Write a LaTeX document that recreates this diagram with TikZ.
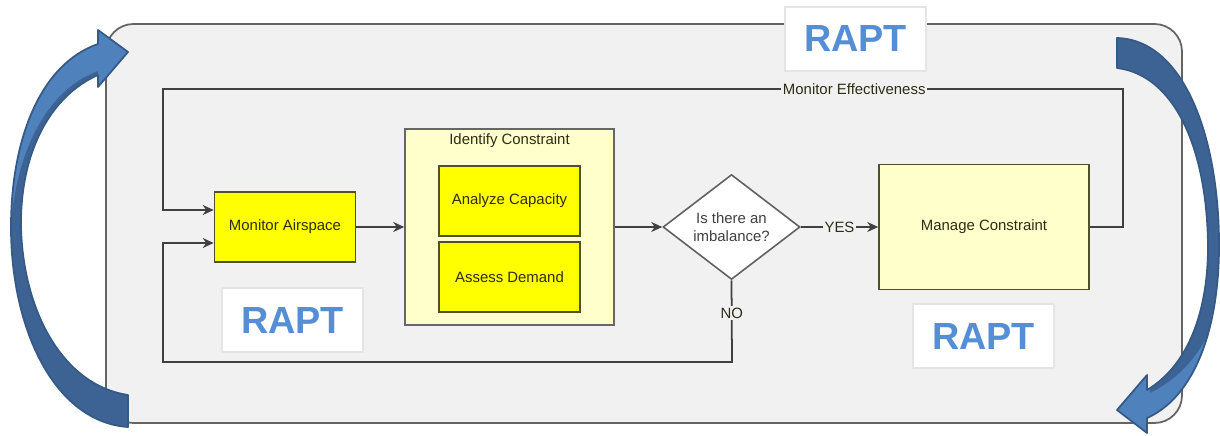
\documentclass[tikz,border=0pt]{standalone}
\usepackage{fontspec}
\setmainfont{Liberation Sans}
\usetikzlibrary{shapes.geometric,arrows.meta}

\definecolor{panelgray}{RGB}{241,241,241}
\definecolor{panelrim}{RGB}{100,100,100}
\definecolor{flowline}{RGB}{64,64,64}
\definecolor{stepyellow}{RGB}{255,255,0}
\definecolor{paleyellow}{RGB}{255,255,204}
\definecolor{olivedark}{RGB}{80,80,45}
\definecolor{steptext}{RGB}{45,45,20}
\definecolor{raptblue}{RGB}{85,142,213}
\definecolor{cyclefill}{RGB}{79,129,189}
\definecolor{cycleshade}{RGB}{61,99,148}
\definecolor{cycleedge}{RGB}{54,90,134}

\tikzset{
  stepbox/.style={draw=olivedark, fill=stepyellow, line width=0.9pt, text=steptext,
    font=\fontsize{8.5}{10}\selectfont, minimum width=2.82cm, minimum height=1.4cm},
  groupbox/.style={draw=gray!80!black, fill=paleyellow, line width=0.9pt},
  raptbox/.style={draw=gray!20, fill=white, line width=0.8pt, text=raptblue,
    font=\bfseries\fontsize{21.5}{26}\selectfont, minimum width=2.82cm, minimum height=1.28cm},
  flow/.style={draw=flowline, line width=1pt},
  tag/.style={fill=panelgray, inner sep=1pt, text=steptext, font=\fontsize{8.5}{10}\selectfont},
  cycleedge/.style={draw=cycleedge, line width=1pt, line join=round},
}

% outlines of the two curved arrows
\def\leftcycle{(128,395) .. controls (62,385) and (23,310) .. (21,227)
    .. controls (20,150) and (52,95) .. (98,75)
    -- (98,87) -- (128,52) -- (98,30) -- (98,44)
    .. controls (40,64) and (11,140) .. (11,227)
    .. controls (11,330) and (55,422) .. (128,427) -- cycle}
\def\rightcycle{(1117,38) .. controls (1185,40) and (1220,140) .. (1219,250)
    .. controls (1218,335) and (1192,398) .. (1147,418)
    -- (1147,433) -- (1117,410) -- (1147,375) -- (1147,390)
    .. controls (1184,368) and (1207,320) .. (1208,250)
    .. controls (1208,150) and (1175,75) .. (1117,68) -- cycle}

\begin{document}
\begin{tikzpicture}[x=0.2mm, y=-0.2mm, >={Stealth[length=2.2mm, width=2mm]}]
  \useasboundingbox (0,0) rectangle (1220,435);

  % Background panel
  \draw[draw=panelrim, fill=panelgray, line width=1pt, rounded corners=5.5mm]
    (106,24) rectangle (1182,423);

  % Process steps
  \node[stepbox] (mon) at (285,227) {Monitor Airspace};
  \node[groupbox, minimum width=4.18cm, minimum height=3.92cm] (ident) at (509.5,227) {};
  \node[tag, fill=none] (identtitle) at (509.5,141) {Identify Constraint};
  \node[stepbox] (cap) at (509.5,201) {Analyze Capacity};
  \node[stepbox] (dem) at (509.5,277) {Assess Demand};
  \node[diamond, draw=gray!75!black, fill=white, line width=0.9pt, inner sep=0pt,
        minimum width=2.74cm, minimum height=2.06cm, align=center,
        text=black!75, font=\fontsize{8.5}{10}\selectfont] (imb) at (731.5,227) {Is there an\\imbalance?};
  \node[groupbox, draw=olivedark, text=steptext, font=\fontsize{8.5}{10}\selectfont,
        minimum width=4.2cm, minimum height=2.5cm] (mgr) at (984,227) {Manage Constraint};

  % Loop corners
  \coordinate (topL) at (163,89);
  \coordinate (topR) at (1123,89);
  \coordinate (botL) at (163,362);
  \coordinate (botR) at (732,362);

  % Forward flow
  \draw[flow, ->] (mon.east) -- (ident.west |- mon.east);
  \draw[flow, ->] (ident.east |- imb.west) -- (imb.west);
  \draw[flow, ->] (imb.east) -- node[tag] {YES} (mgr.west);

  % Feedback loops
  \draw[flow, ->] (mgr.east) -| (topR) -- node[tag, pos=0.28] {Monitor Effectiveness} (topL)
    |- ([yshift=3.4mm]mon.west);
  \draw[flow, ->] (imb.south) -- node[tag, pos=0.4] {NO} (botR) -- (botL)
    |- ([yshift=-3.2mm]mon.west);

  % Labels
  \node[raptbox] (raptA) at (292.5,320) {RAPT};
  \node[raptbox] (raptB) at (855.5,39) {RAPT};
  \node[raptbox] (raptC) at (983.5,336) {RAPT};

  % Curved arrow, left side (bottom to top): shaded back, lighter front near the head
  \fill[cycleshade] \leftcycle;
  \begin{scope}
    \clip \leftcycle;
    \fill[cyclefill] (140,0) -- (140,100) -- (98,100) -- (98,71)
      .. controls (50,88) and (18,145) .. (11,222) -- (0,222) -- (0,0) -- cycle;
  \end{scope}
  \path[cycleedge] \leftcycle;

  % Curved arrow, right side (top to bottom)
  \fill[cycleshade] \rightcycle;
  \begin{scope}
    \clip \rightcycle;
    \fill[cyclefill] (1100,368) -- (1150,368) -- (1150,393)
      .. controls (1190,374) and (1214,335) .. (1224,290) -- (1230,290)
      -- (1230,440) -- (1100,440) -- cycle;
  \end{scope}
  \path[cycleedge] \rightcycle;
\end{tikzpicture}
\end{document}
